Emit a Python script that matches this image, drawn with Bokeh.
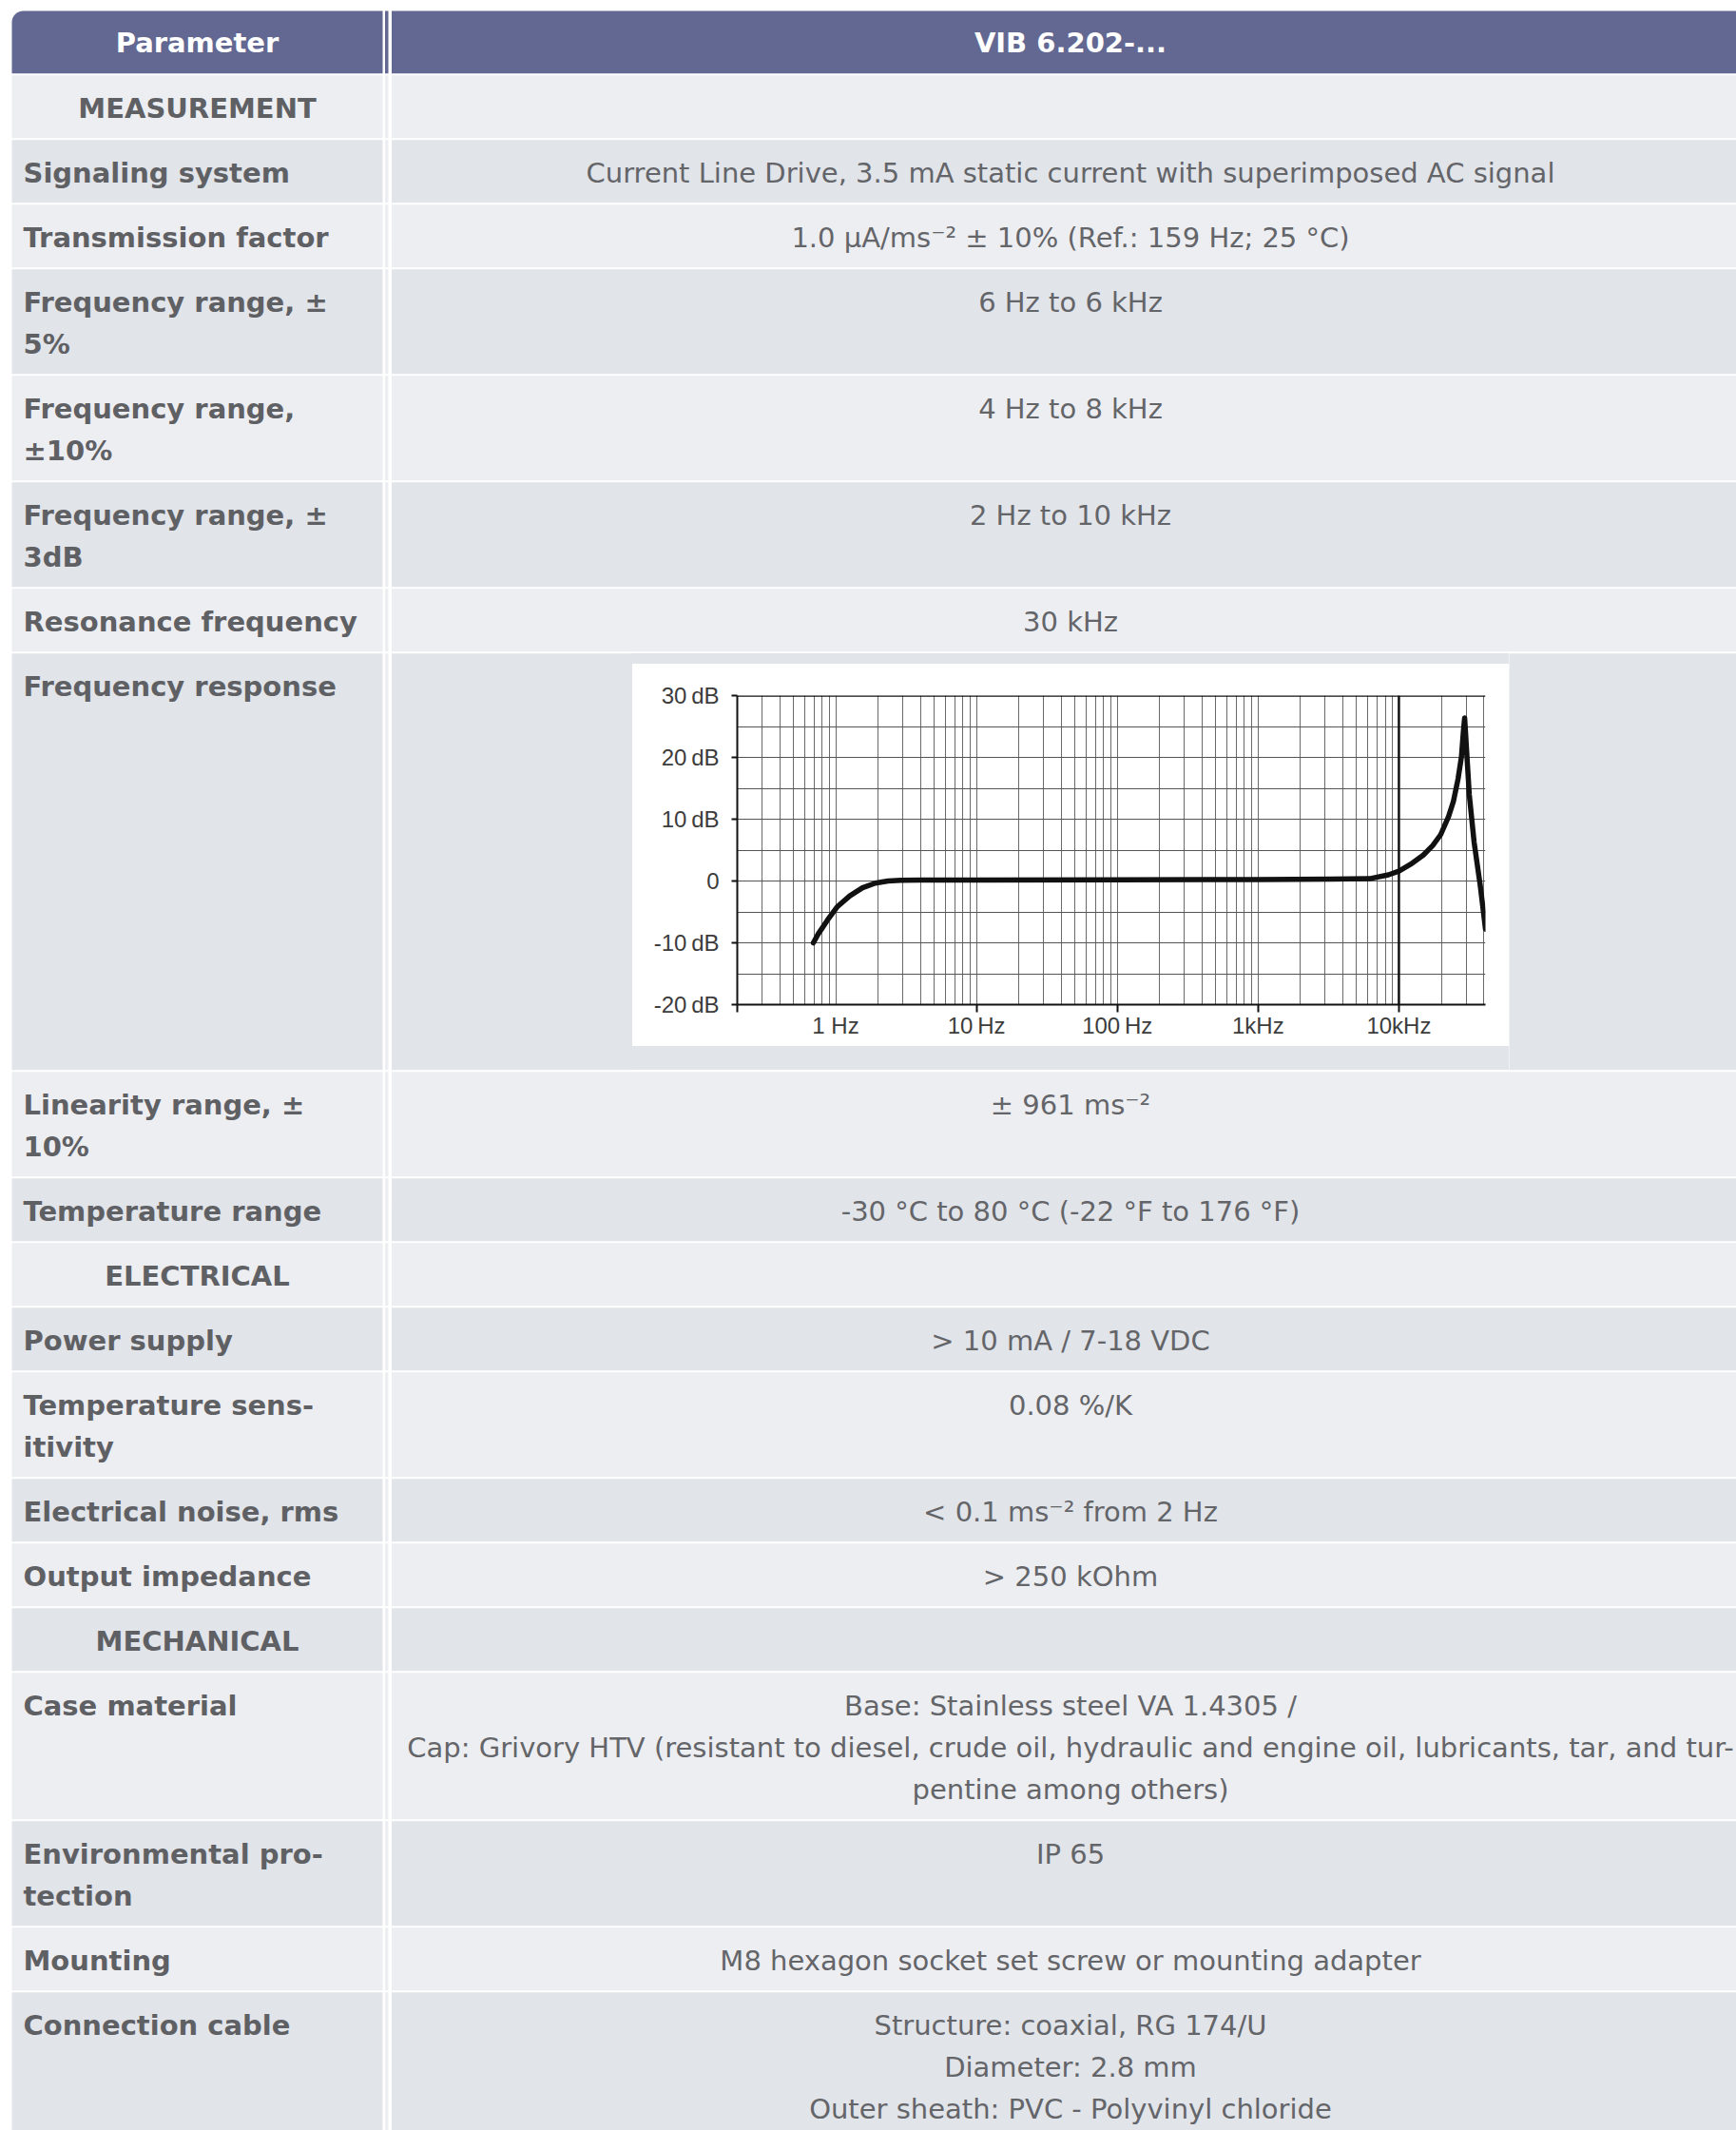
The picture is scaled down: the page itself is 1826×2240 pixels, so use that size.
from bokeh.plotting import figure
from bokeh.models import Range1d, FixedTicker, Span, LogAxis, Div
from bokeh.layouts import column, row
from bokeh.core.properties import value
from bokeh.embed import file_html
from bokeh.resources import INLINE

# ---------------- data ----------------
header_labels = ["Parameter", "VIB 6.202-..."]

row_kinds = ["section", "data", "data", "data", "data", "data", "data", "chart",
             "data", "data", "section", "data", "data", "data", "data", "section",
             "data", "data", "data", "data"]

param_labels = [
    ["MEASUREMENT"],
    ["Signaling system"],
    ["Transmission factor"],
    ["Frequency range, \u00b1", "5%"],
    ["Frequency range,", "\u00b110%"],
    ["Frequency range, \u00b1", "3dB"],
    ["Resonance frequency"],
    ["Frequency response"],
    ["Linearity range, \u00b1", "10%"],
    ["Temperature range"],
    ["ELECTRICAL"],
    ["Power supply"],
    ["Temperature sens-", "itivity"],
    ["Electrical noise, rms"],
    ["Output impedance"],
    ["MECHANICAL"],
    ["Case material"],
    ["Environmental pro-", "tection"],
    ["Mounting"],
    ["Connection cable"],
]

value_texts = [
    [],
    ["Current Line Drive, 3.5 mA static current with superimposed AC signal"],
    ["1.0 \u00b5A/ms\u207b\u00b2 \u00b1 10% (Ref.: 159 Hz; 25 \u00b0C)"],
    ["6 Hz to 6 kHz"],
    ["4 Hz to 8 kHz"],
    ["2 Hz to 10 kHz"],
    ["30 kHz"],
    [],
    ["\u00b1 961 ms\u207b\u00b2"],
    ["-30 \u00b0C to 80 \u00b0C (-22 \u00b0F to 176 \u00b0F)"],
    [],
    ["> 10 mA / 7-18 VDC"],
    ["0.08 %/K"],
    ["< 0.1 ms\u207b\u00b2 from 2 Hz"],
    ["> 250 kOhm"],
    [],
    ["Base: Stainless steel VA 1.4305 /",
     "Cap: Grivory HTV (resistant to diesel, crude oil, hydraulic and engine oil, lubricants, tar, and tur-",
     "pentine among others)"],
    ["IP 65"],
    ["M8 hexagon socket set screw or mounting adapter"],
    ["Structure: coaxial, RG 174/U", "Diameter: 2.8 mm", "Outer sheath: PVC - Polyvinyl chloride"],
]

# frequency response curve
freq_hz = [0.694, 0.75, 0.876, 1.023, 1.26, 1.55, 1.91, 2.35, 2.89, 4.0, 10, 100, 1000,
           3300, 6180, 8430, 10000, 12100, 14900, 17400, 19800, 22500, 24400, 26300,
           27800, 28700, 29300, 31600, 34200, 37900, 41200]
response_db = [-10.0, -8.6, -6.3, -4.2, -2.4, -1.1, -0.35, 0.0, 0.12, 0.15, 0.15, 0.2, 0.25,
               0.3, 0.37, 1.0, 1.6, 2.7, 4.2, 5.75, 7.5, 10.4, 12.9, 16.5,
               20.1, 24.2, 26.4, 14.0, 6.3, -0.9, -7.8]

y_tick_values = [-20, -10, 0, 10, 20, 30]
y_tick_labels = ["-20\u2009dB", "-10\u2009dB", "0", "10\u2009dB", "20\u2009dB", "30\u2009dB"]
x_tick_mark_values = [0.2, 10, 100, 1000, 10000]
x_label_values = [1, 10, 100, 1000, 10000]
x_label_texts = ["1 Hz", "10\u2009Hz", "100\u2009Hz", "1kHz", "10kHz"]
y_grid_values = [-15, -10, -5, 0, 5, 10, 15, 20, 25]
x_grid_mult = [1, 2, 3, 4, 5, 6, 7, 8, 9]
x_grid_decades = [0.1, 1, 10, 100, 1000, 10000]

# ---------------- layout constants ----------------
HEADER_COLOR = "#626892"
LIGHT = "#EDEEF2"
DARK = "#E1E4E9"
PARAM_COLOR = "#5f6064"
VALUE_COLOR = "#646569"
FONT = "DejaVu Sans"
FSIZE = "29px"

PAGE_W, PAGE_H = 1826, 2240
X_LEFT, SEP_L, STRIPE_L, STRIPE_R, VAL_L, X_RIGHT = 12, 402, 404.5, 408, 411.5, PAGE_W
PARAM_X, SECTION_X, VALUE_X = 24, 207, 1125.5
HEADER_TOP, HEADER_BOTTOM, HEADER_BASE = 11, 77.7, 44.5
LINE_H, PAD, CHART_ROW_H, BASE_OFF = 44, 24, 440, 35.4

row_tops = []
row_bottoms = []
y = HEADER_BOTTOM
for kind, pl, vl in zip(row_kinds, param_labels, value_texts):
    if kind == "chart":
        h = CHART_ROW_H
    else:
        h = PAD + LINE_H * max(len(pl), len(vl), 1)
    row_tops.append(y)
    row_bottoms.append(y + h)
    y += h


def canvas(x0, x1, y0, y1):
    p = figure(width=int(round(x1 - x0)), height=int(round(y1 - y0)),
               x_range=Range1d(x0, x1), y_range=Range1d(y1, y0),
               output_backend="svg", toolbar_location=None, min_border=0,
               background_fill_color="white", border_fill_color="white",
               outline_line_color=None)
    p.axis.visible = False
    p.grid.visible = False
    return p


def overlaps(a0, a1, b0, b1):
    return a0 < b1 and a1 > b0


def draw_table(p, x0, x1, y0, y1):
    L, R, T, B, C = [], [], [], [], []

    def add(l, r, t, b, c):
        if overlaps(l, r, x0, x1) and overlaps(t, b, y0, y1):
            L.append(l); R.append(r); T.append(t); B.append(b); C.append(c)

    # header
    if overlaps(X_LEFT, SEP_L, x0, x1) and overlaps(HEADER_TOP, HEADER_BOTTOM - 1, y0, y1):
        p.quad(left=[X_LEFT], right=[SEP_L], top=[HEADER_TOP], bottom=[HEADER_BOTTOM - 1],
               fill_color=HEADER_COLOR, line_color=None, border_radius=(12, 0, 0, 0))
    add(STRIPE_L, STRIPE_R, HEADER_TOP, HEADER_BOTTOM - 1, HEADER_COLOR)
    add(VAL_L, X_RIGHT, HEADER_TOP, HEADER_BOTTOM - 1, HEADER_COLOR)
    for i, (t, b) in enumerate(zip(row_tops, row_bottoms)):
        col = LIGHT if i % 2 == 0 else DARK
        add(X_LEFT, SEP_L, t + 1, b - 1, col)
        add(STRIPE_L, STRIPE_R, t + 1, b - 1, LIGHT)
        add(VAL_L, X_RIGHT, t + 1, b - 1, col)
    if L:
        p.quad(left=L, right=R, top=T, bottom=B, fill_color=C, line_color=None)

    def inside(xx, yy):
        return x0 <= xx <= x1 and y0 <= yy <= y1

    hx, hy, ht = [], [], []
    for xx, txt in zip([SECTION_X, VALUE_X], header_labels):
        if inside(xx, HEADER_BASE):
            hx.append(xx); hy.append(HEADER_BASE); ht.append(txt)
    if hx:
        p.text(x=hx, y=hy, text=ht, text_font=value(FONT), text_font_style="bold",
               text_font_size=FSIZE, text_color="white", text_align="center",
               text_baseline="alphabetic")

    px, py, pt = [], [], []
    sx, sy, st = [], [], []
    vx, vy, vt = [], [], []
    for kind, t, pl, vl in zip(row_kinds, row_tops, param_labels, value_texts):
        for j, line in enumerate(pl):
            yy = t + BASE_OFF + LINE_H * j
            if kind == "section":
                if inside(SECTION_X, yy):
                    sx.append(SECTION_X); sy.append(yy); st.append(line)
            else:
                if inside(PARAM_X, yy):
                    px.append(PARAM_X); py.append(yy); pt.append(line)
        for j, line in enumerate(vl):
            yy = t + BASE_OFF + LINE_H * j
            if inside(VALUE_X, yy):
                vx.append(VALUE_X); vy.append(yy); vt.append(line)
    if px:
        p.text(x=px, y=py, text=pt, text_font=value(FONT), text_font_style="bold",
               text_font_size=FSIZE, text_color=PARAM_COLOR, text_align="left",
               text_baseline="alphabetic")
    if sx:
        p.text(x=sx, y=sy, text=st, text_font=value(FONT), text_font_style="bold",
               text_font_size=FSIZE, text_color=PARAM_COLOR, text_align="center",
               text_baseline="alphabetic")
    if vx:
        p.text(x=vx, y=vy, text=vt, text_font=value(FONT), text_font_style="normal",
               text_font_size=FSIZE, text_color=VALUE_COLOR, text_align="center",
               text_baseline="alphabetic")


def table_canvas(x0, x1, y0, y1):
    p = canvas(x0, x1, y0, y1)
    draw_table(p, x0, x1, y0, y1)
    return p


fr_idx = row_kinds.index("chart")
MID_T, MID_B = int(round(row_tops[fr_idx])), int(round(row_bottoms[fr_idx]))
BOX_L, BOX_R = 665, 1587
BOX_T, BOX_B = MID_T + 12, MID_T + 12 + 402

top_fig = table_canvas(0, PAGE_W, 0, MID_T)
mid_left = table_canvas(0, BOX_L, MID_T, MID_B)
mid_right = table_canvas(BOX_R, PAGE_W, MID_T, MID_B)
bottom_fig = table_canvas(0, PAGE_W, MID_B, PAGE_H)

pad_top = Div(text="", width=BOX_R - BOX_L, height=BOX_T - MID_T, margin=0,
              styles={"background-color": DARK, "border-top": "1px solid white",
                      "box-sizing": "border-box", "padding": "0"})
pad_bot = Div(text="", width=BOX_R - BOX_L, height=MID_B - BOX_B, margin=0,
              styles={"background-color": DARK, "border-bottom": "1px solid white",
                      "box-sizing": "border-box", "padding": "0"})

# ---------------- frequency response chart ----------------
CHART_FONT = "Liberation Sans"
LABEL_COLOR = "#3c3c3c"
chart = figure(width=BOX_R - BOX_L, height=BOX_B - BOX_T, x_axis_type="log",
               x_range=Range1d(0.2, 41200), y_range=Range1d(-20, 30),
               output_backend="svg", toolbar_location=None,
               min_border_left=110, min_border_right=25, min_border_top=33,
               min_border_bottom=44, background_fill_color="white",
               border_fill_color="white", outline_line_color=None)

grid_freqs = [m * d for d in x_grid_decades for m in x_grid_mult if 0.2 <= m * d <= 41000]
chart.xgrid.ticker = FixedTicker(ticks=grid_freqs)
chart.xgrid.grid_line_color = "#6a6a6a"
chart.xgrid.grid_line_width = 1
chart.ygrid.ticker = FixedTicker(ticks=y_grid_values)
chart.ygrid.grid_line_color = "#555555"
chart.ygrid.grid_line_width = 1

# tick-mark axis (no labels)
xa = chart.xaxis[0]
xa.ticker = FixedTicker(ticks=x_tick_mark_values)
xa.major_label_overrides = {v: "" for v in x_tick_mark_values}
xa.major_label_text_font_size = "1px"
xa.major_label_standoff = 0
xa.major_tick_out = 8

# label axis (no marks)
label_axis = LogAxis(ticker=FixedTicker(ticks=x_label_values),
                     major_label_overrides={v: t for v, t in zip(x_label_values, x_label_texts)},
                     axis_line_color=None, major_tick_line_color=None,
                     minor_tick_line_color=None, major_tick_out=0, major_tick_in=0,
                     major_label_standoff=0, major_label_text_font=CHART_FONT,
                     major_label_text_font_size="24px", major_label_text_color=LABEL_COLOR)
chart.add_layout(label_axis, "below")

chart.yaxis.ticker = FixedTicker(ticks=y_tick_values)
chart.yaxis.major_label_overrides = {v: l for v, l in zip(y_tick_values, y_tick_labels)}
for ax in (chart.xaxis[0], chart.yaxis[0]):
    ax.axis_line_color = "#111111"
    ax.axis_line_width = 2
    ax.major_tick_line_color = "#111111"
    ax.major_tick_line_width = 2
    ax.major_tick_in = 0
    ax.minor_tick_line_color = None
chart.yaxis.major_label_text_font = CHART_FONT
chart.yaxis.major_label_text_font_size = "24px"
chart.yaxis.major_label_text_color = LABEL_COLOR
chart.yaxis.major_tick_out = 6
chart.yaxis.major_label_standoff = 13

chart.add_layout(Span(location=30, dimension="width", line_color="#111111", line_width=2.5))
chart.add_layout(Span(location=10000, dimension="height", line_color="#111111", line_width=2.5))

chart.line(freq_hz, response_db, line_width=5.5, line_color="#111111",
           line_cap="round", line_join="round")

layout = column(top_fig,
                row(mid_left, column(pad_top, chart, pad_bot, spacing=0), mid_right, spacing=0),
                bottom_fig, spacing=0)

open("out.html", "w").write(file_html(layout, INLINE))
